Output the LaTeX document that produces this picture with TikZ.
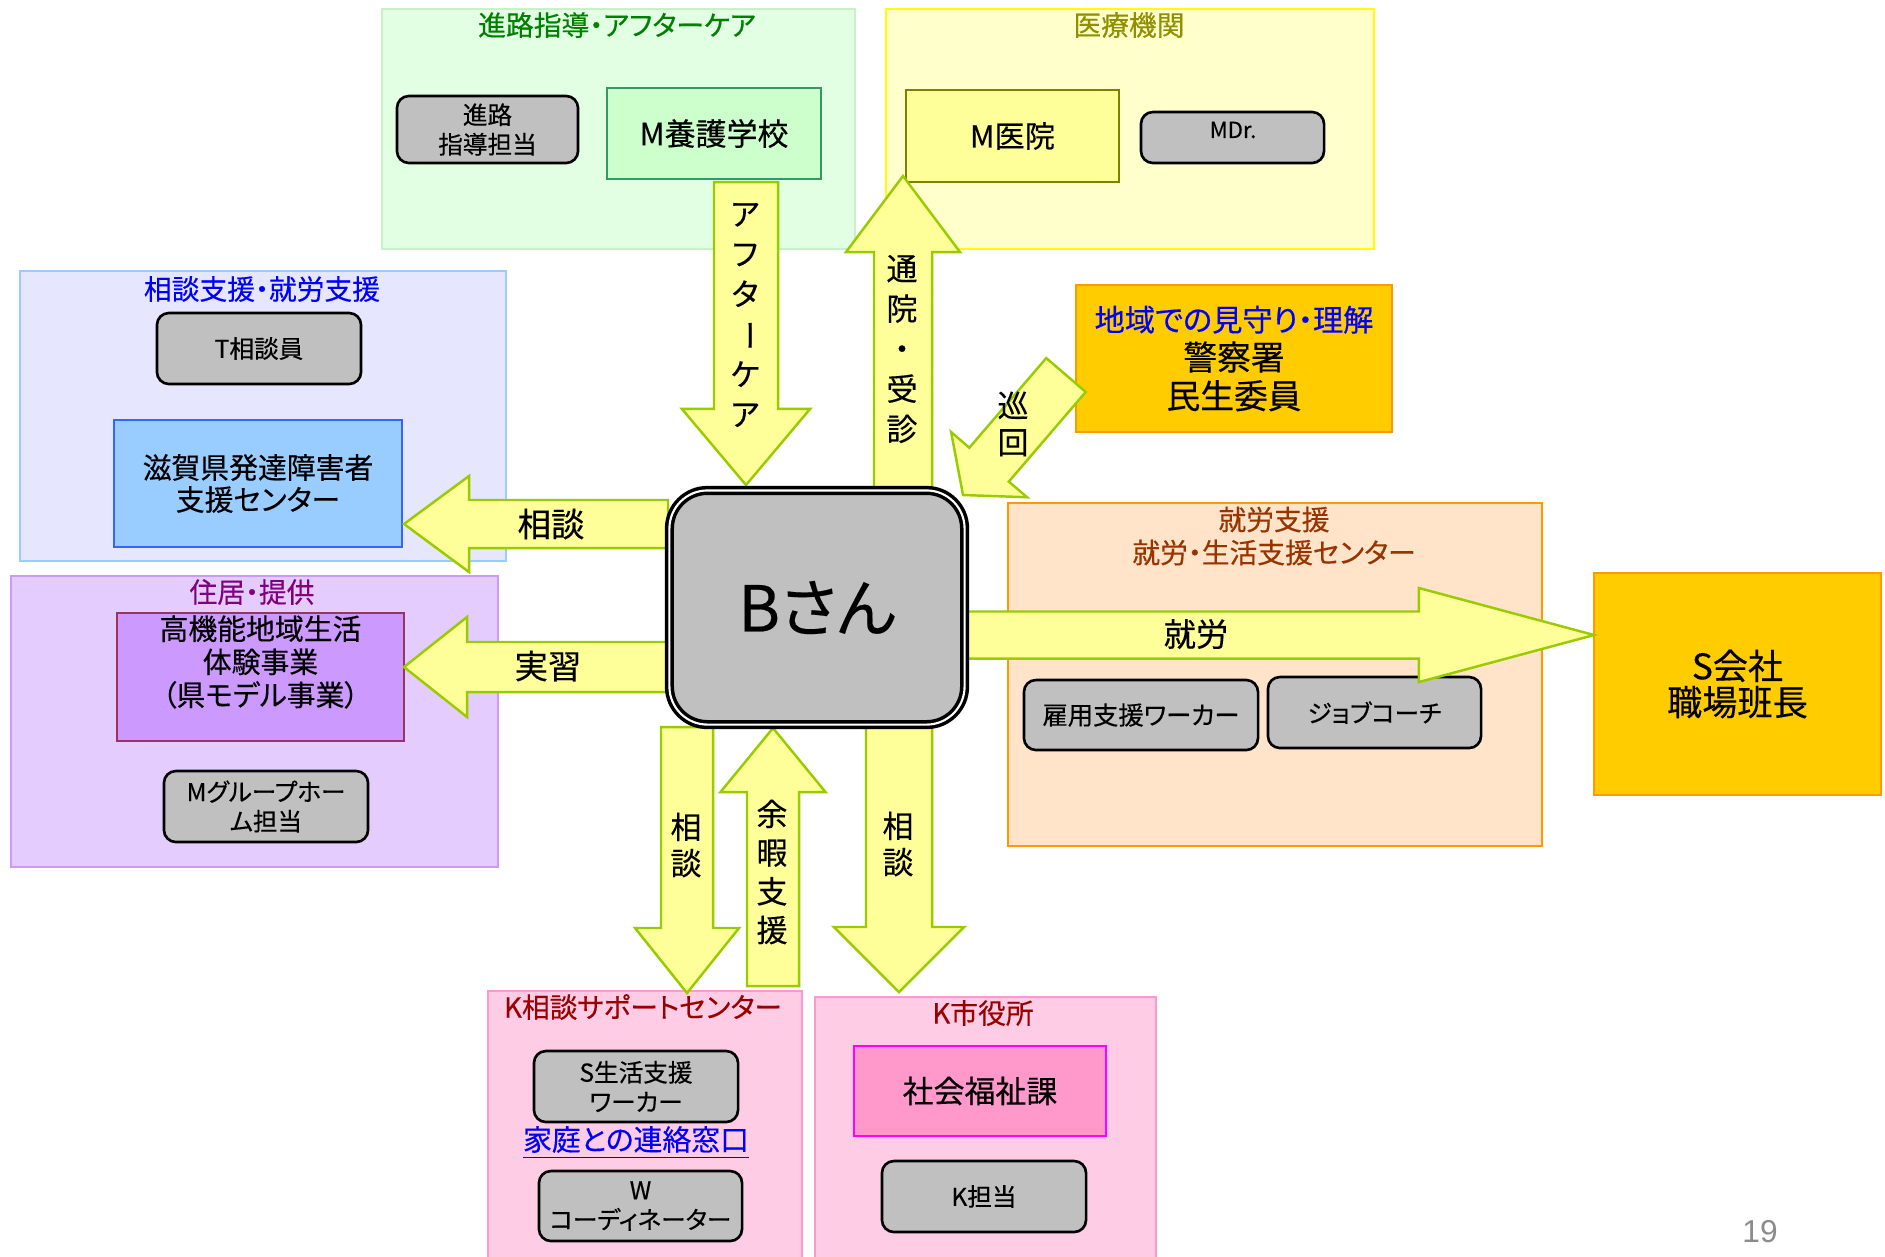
\documentclass[tikz,border=0pt]{standalone}
\usepackage{fontspec}
\setmainfont{Noto Sans CJK JP}[RawFeature={+palt}, FakeBold=0.35]
\newfontfamily\numfont{Liberation Sans}
\usetikzlibrary{calc}

\definecolor{arrF}{HTML}{FFFF99}
\definecolor{arrD}{HTML}{99CC00}
\definecolor{grayF}{HTML}{C0C0C0}
\definecolor{gGrnF}{HTML}{E3FFE3}
\definecolor{gGrnD}{HTML}{C6F3C6}
\definecolor{gYelF}{HTML}{FFFFCC}
\definecolor{gYelD}{HTML}{FFFF00}
\definecolor{gBluF}{HTML}{E6E6FF}
\definecolor{gBluD}{HTML}{99CCFF}
\definecolor{gPurF}{HTML}{E4CCFF}
\definecolor{gPurD}{HTML}{CC99FF}
\definecolor{gOrgF}{HTML}{FFE4C9}
\definecolor{gOrgD}{HTML}{FF9900}
\definecolor{gPnkF}{HTML}{FFCCE5}
\definecolor{gPnkD}{HTML}{FF99CC}
\definecolor{schF}{HTML}{CCFFCC}
\definecolor{schD}{HTML}{339966}
\definecolor{clnF}{HTML}{FFFF99}
\definecolor{clnD}{HTML}{808000}
\definecolor{shgF}{HTML}{99CCFF}
\definecolor{shgD}{HTML}{3366FF}
\definecolor{kkF}{HTML}{CC99FF}
\definecolor{kkD}{HTML}{993366}
\definecolor{goldF}{HTML}{FFCC00}
\definecolor{goldD}{HTML}{FF9900}
\definecolor{fkF}{HTML}{FF99CC}
\definecolor{fkD}{HTML}{FF00FF}
\definecolor{tGrn}{HTML}{008000}
\definecolor{tOlv}{HTML}{8F8F00}
\definecolor{tBlu}{HTML}{0000FF}
\definecolor{tPur}{HTML}{800080}
\definecolor{tBrn}{HTML}{993300}
\definecolor{tRed}{HTML}{990000}
\definecolor{pgGray}{HTML}{8C8C8C}

\newcommand\blockarr[6]{%
  \coordinate (#1-b) at ($(#3)!#6!(#2)$);
  \draw[arr] ($(#2)!#4!90:(#3)$) -- ($(#1-b)!#4!90:(#3)$) -- ($(#1-b)!#5!90:(#3)$) -- (#3)
    -- ($(#1-b)!#5!-90:(#3)$) -- ($(#1-b)!#4!-90:(#3)$) -- ($(#2)!#4!-90:(#3)$) -- cycle;
}
\newcommand\vbar{\raisebox{0.12em}{\rotatebox[origin=c]{-90}{ー}}}

\begin{document}
\begin{tikzpicture}[x=0.01cm,y=-0.01cm,
  grp/.style={draw, line width=0.6pt, inner sep=0pt, anchor=north west},
  gbox/.style={draw=black, fill=grayF, rounded corners=0.12cm, line width=0.75pt, inner sep=0pt,
    align=center, font=\fontsize{7.0}{8.4}\selectfont},
  cbox/.style={draw, line width=0.75pt, inner sep=0pt, align=center, font=\fontsize{8.2}{9.2}\selectfont},
  ttl/.style={inner sep=0pt, align=center, font=\fontsize{7.9}{9.4}\selectfont},
  arr/.style={fill=arrF, draw=arrD, line width=0.7pt, line join=miter},
  vtxt/.style={inner sep=0pt, align=center, font=\fontsize{8.8}{11.2}\selectfont},
  htxt/.style={inner sep=0pt, font=\fontsize{9.5}{11}\selectfont}]
\useasboundingbox (0,0) rectangle (1885,1256);
\fill[white] (0,0) rectangle (1885,1256);

% group frames
\node[grp, draw=gGrnD, fill=gGrnF, minimum width=4.73cm, minimum height=2.40cm] (gShinro) at (381,8) {};
\node[grp, draw=gYelD, fill=gYelF, minimum width=4.88cm, minimum height=2.40cm] (gIryo) at (885,8) {};
\node[grp, draw=gBluD, fill=gBluF, minimum width=4.86cm, minimum height=2.90cm] (gSodan) at (19,270) {};
\node[grp, draw=gPurD, fill=gPurF, minimum width=4.87cm, minimum height=2.91cm] (gJukyo) at (10,575) {};
\node[grp, draw=gOrgD, fill=gOrgF, minimum width=5.34cm, minimum height=3.43cm] (gShuro) at (1007,502) {};
\node[grp, draw=gPnkD, fill=gPnkF, minimum width=3.14cm, minimum height=2.80cm] (gKsodan) at (487,990) {};
\node[grp, draw=gPnkD, fill=gPnkF, minimum width=3.41cm, minimum height=2.75cm] (gKshi) at (814,996) {};

% group titles
\node[ttl, text=tGrn] (tShinro) at (617,25) {進路指導・アフターケア};
\node[ttl, text=tOlv] (tIryo) at (1129,25) {医療機関};
\node[ttl, text=tBlu] (tSodan) at (262,289) {相談支援・就労支援};
\node[ttl, text=tPur] (tJukyo) at (252,592) {住居・提供};
\node[ttl, text=tBrn] (tShuro) at (1274,536) {就労支援\\就労・生活支援センター};
\node[ttl, text=tRed] (tKsodan) at (643,1007) {K相談サポートセンター};
\node[ttl, text=tRed] (tKshi) at (983,1013) {K市役所};

% boxes
\node[gbox, minimum width=1.81cm, minimum height=0.67cm] (shinroT) at (487.5,129.5) {進路\\指導担当};
\node[cbox, draw=schD, fill=schF, minimum width=2.14cm, minimum height=0.91cm, font=\fontsize{8.8}{10}\selectfont] (mSchool) at (714,133.5) {M養護学校};
\node[cbox, draw=clnD, fill=clnF, minimum width=2.13cm, minimum height=0.92cm, font=\fontsize{8.6}{10}\selectfont] (mClinic) at (1012.5,136) {M医院};
\node[gbox, minimum width=1.83cm, minimum height=0.51cm] (mDr) at (1232.5,137.5) {};
\node[inner sep=0pt, font=\fontsize{6.3}{7}\selectfont] (mDrT) at (1233,130) {MDr.};
\node[gbox, minimum width=2.04cm, minimum height=0.71cm] (tSodanin) at (259,348.5) {T相談員};
\node[cbox, draw=shgD, fill=shgF, minimum width=2.88cm, minimum height=1.27cm, font=\fontsize{8.2}{9.1}\selectfont] (shiga) at (258,483.5) {滋賀県発達障害者\\支援センター};
\node[cbox, draw=kkD, fill=kkF, minimum width=2.87cm, minimum height=1.28cm] (koukino) at (260.5,677) {};
\node[inner sep=0pt, align=center, font=\fontsize{8.2}{9.4}\selectfont] (koukinoT) at (260.5,662) {高機能地域生活\\体験事業\\（県モデル事業）};
\node[gbox, minimum width=2.04cm, minimum height=0.71cm] (mGH) at (266,806.5) {Mグループホー\\ム担当};
\node[cbox, draw=goldD, fill=goldF, minimum width=3.16cm, minimum height=1.47cm, font=\fontsize{9.6}{11}\selectfont] (chiiki) at (1234,358.5)
  {{\fontsize{8.6}{10.5}\selectfont\color{tBlu}地域での見守り・理解}\\警察署\\民生委員};
\node[gbox, minimum width=2.34cm, minimum height=0.70cm, font=\fontsize{7.2}{8.4}\selectfont] (koyo) at (1141,715) {雇用支援ワーカー};
\node[gbox, minimum width=2.13cm, minimum height=0.71cm] (job) at (1374.5,712.5) {ジョブコーチ};
\node[cbox, draw=goldD, fill=goldF, minimum width=2.87cm, minimum height=2.22cm, font=\fontsize{10}{10.3}\selectfont] (sKaisha) at (1737.5,684) {S会社\\職場班長};
\node[gbox, minimum width=2.04cm, minimum height=0.71cm] (sSeikatsu) at (636,1086.5) {S生活支援\\ワーカー};
\node[inner sep=0pt, text=tBlu, font=\fontsize{8.2}{9}\selectfont] (katei) at (636,1143) {\underline{家庭との連絡窓口}};
\node[gbox, minimum width=2.03cm, minimum height=0.70cm] (wCoord) at (640.5,1206) {W\\コーディネーター};
\node[cbox, draw=fkD, fill=fkF, minimum width=2.52cm, minimum height=0.90cm, font=\fontsize{8.8}{10}\selectfont] (fukushi) at (980,1091) {社会福祉課};
\node[gbox, minimum width=2.04cm, minimum height=0.71cm] (kTanto) at (984,1196.5) {K担当};

% block arrows
\coordinate (a1T) at (746,182);  \coordinate (a1P) at (746,485);
\coordinate (a2T) at (903,488);  \coordinate (a2P) at (903,176);
\coordinate (a3T) at (1066,375); \coordinate (a3P) at (963,495);
\coordinate (a4T) at (668,524);  \coordinate (a4P) at (404,524);
\coordinate (a5T) at (668,667);  \coordinate (a5P) at (404,667);
\coordinate (a6T) at (966,635);  \coordinate (a6P) at (1594,635);
\coordinate (a7T) at (687,727);  \coordinate (a7P) at (687,993);
\coordinate (a8T) at (773,986);  \coordinate (a8P) at (773,728);
\coordinate (a9T) at (899,727);  \coordinate (a9P) at (899,992);
\blockarr{a1}{a1T}{a1P}{0.32cm}{0.64cm}{0.76cm}
\blockarr{a2}{a2T}{a2P}{0.29cm}{0.57cm}{0.76cm}
\blockarr{a3}{a3T}{a3P}{0.26cm}{0.50cm}{0.40cm}
\blockarr{a4}{a4T}{a4P}{0.24cm}{0.48cm}{0.65cm}
\blockarr{a5}{a5T}{a5P}{0.25cm}{0.50cm}{0.63cm}
\blockarr{a6}{a6T}{a6P}{0.235cm}{0.47cm}{1.75cm}
\blockarr{a7}{a7T}{a7P}{0.26cm}{0.52cm}{0.65cm}
\blockarr{a8}{a8T}{a8P}{0.26cm}{0.525cm}{0.64cm}
\blockarr{a9}{a9T}{a9P}{0.33cm}{0.65cm}{0.65cm}

% central person
\node[draw=black, double=white, double distance=0.6pt, line width=1pt, fill=grayF,
  rounded corners=0.38cm, minimum width=2.95cm, minimum height=2.34cm, inner sep=0pt,
  font=\fontsize{18}{20}\selectfont] (bsan) at (817,607.5) {Bさん};

% arrow labels
\node[vtxt, font=\fontsize{8.8}{11.4}\selectfont] (lAfter) at (745,315) {ア\\フ\\タ\\\vbar\\ケ\\ア};
\node[vtxt, font=\fontsize{8.8}{11.4}\selectfont] (lTsuin) at (902,349) {通\\院\\・\\受\\診};
\node[vtxt, font=\fontsize{8.8}{10.5}\selectfont] (lJunkai) at (1013,424) {巡\\回};
\node[htxt] (lSodan1) at (551,524) {相談};
\node[htxt] (lJisshu) at (548,666) {実習};
\node[htxt, font=\fontsize{9.2}{11}\selectfont] (lShuro) at (1196,634) {就労};
\node[vtxt, font=\fontsize{8.8}{10.3}\selectfont] (lSodan2) at (686,845) {相\\談};
\node[vtxt, font=\fontsize{8.8}{11}\selectfont] (lYoka) at (772,872) {余\\暇\\支\\援};
\node[vtxt, font=\fontsize{8.8}{10.3}\selectfont] (lSodan3) at (898,844) {相\\談};

% page number
\node[inner sep=0pt, text=pgGray, font=\numfont\fontsize{9}{10}\selectfont] (pageNo) at (1760,1232) {19};
\end{tikzpicture}
\end{document}
